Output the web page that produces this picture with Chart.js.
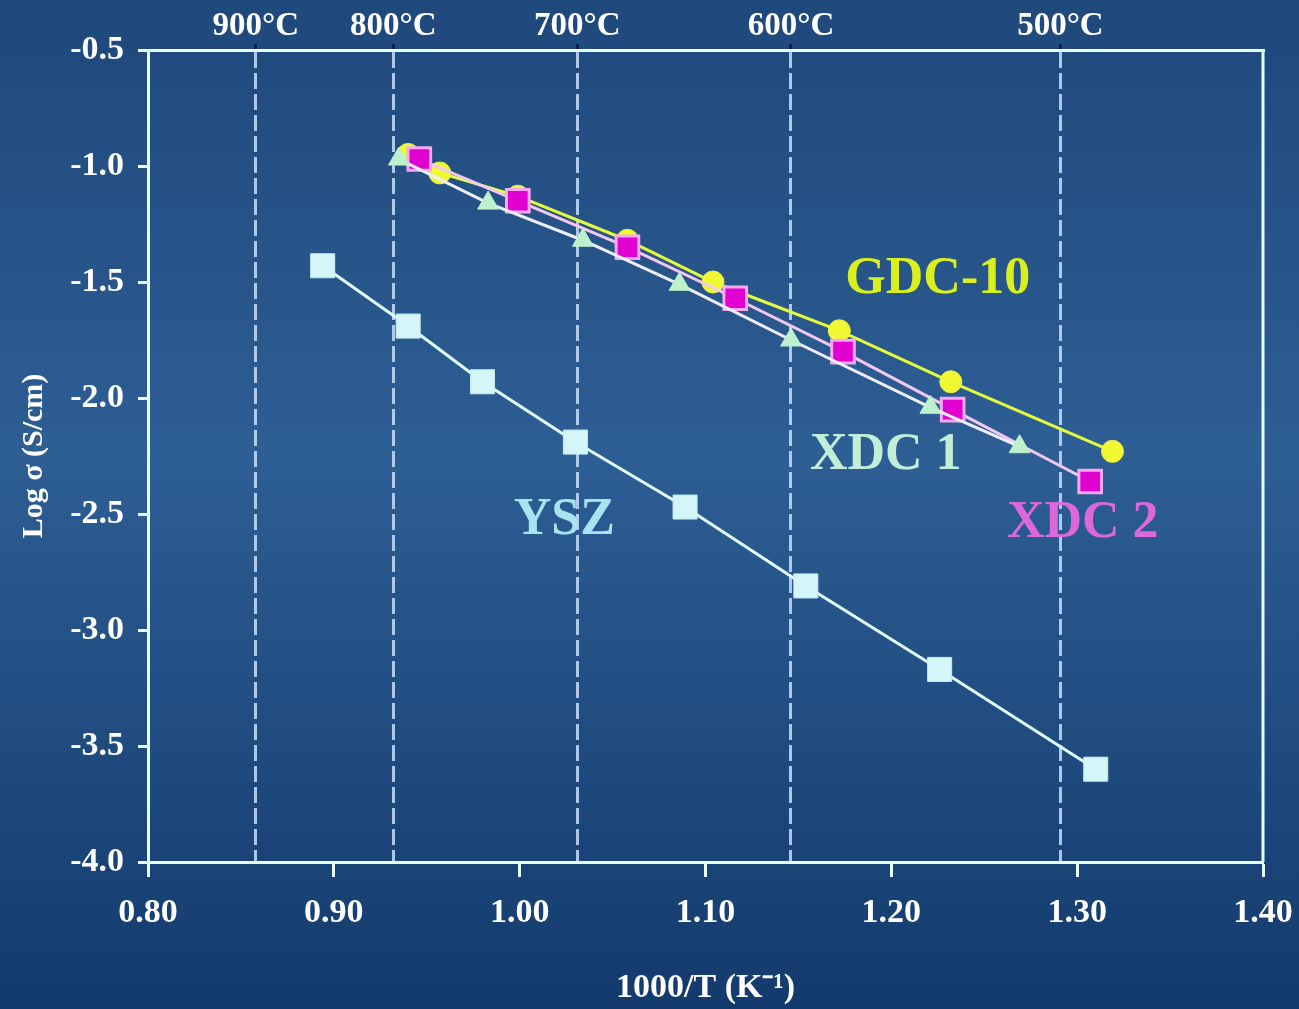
<!DOCTYPE html>
<html>
<head>
<meta charset="utf-8">
<script src="https://cdn.jsdelivr.net/npm/chart.js@4/dist/chart.umd.min.js"></script>
<style>
html,body{margin:0;padding:0;background:#1f4a7f;}
#c{display:block;}
</style>
</head>
<body>
<canvas id="c" width="1299" height="1009"></canvas>
<script>
// ---- data ----
const xTicks = [0.80, 0.90, 1.00, 1.10, 1.20, 1.30, 1.40];
const yTicks = [-4.0, -3.5, -3.0, -2.5, -2.0, -1.5, -1.0, -0.5];
const tempLabels = ['900°C', '800°C', '700°C', '600°C', '500°C'];
const tempX = [0.858, 0.932, 1.031, 1.146, 1.291];   // positions of the temperature lines on 1000/T

const yszX  = [0.894, 0.940, 0.980, 1.030, 1.089, 1.154, 1.226, 1.310];
const yszY  = [-1.43, -1.69, -1.93, -2.19, -2.47, -2.81, -3.17, -3.60];
const gdcX  = [0.940, 0.957, 0.999, 1.058, 1.104, 1.172, 1.232, 1.319];
const gdcY  = [-0.95, -1.03, -1.13, -1.32, -1.50, -1.71, -1.93, -2.23];
const xdc1X = [0.935, 0.983, 1.034, 1.086, 1.146, 1.221, 1.269];
const xdc1Y = [-0.97, -1.16, -1.32, -1.51, -1.75, -2.04, -2.21];
const xdc2X = [0.946, 0.999, 1.058, 1.116, 1.174, 1.233, 1.307];
const xdc2Y = [-0.97, -1.15, -1.35, -1.57, -1.80, -2.05, -2.36];

const seriesNames = ['YSZ', 'XDC 1', 'XDC 2', 'GDC-10'];
const labelX = [1.024, 1.197, 1.303, 1.225];
const labelY = [-2.53, -2.25, -2.54, -1.49];
const labelColors = ['#a9e2f0', '#c2eed8', '#dc68dc', '#d9f01e'];

const pts = (xs, ys) => xs.map((x, i) => ({x: x, y: ys[i]}));
const SERIF = "'Liberation Serif', 'Times New Roman', serif";
const AX = '#e6ffff';

const bgPlugin = {
  id: 'bg',
  beforeDraw(chart) {
    const {ctx, width, height} = chart;
    const g = ctx.createLinearGradient(0, 0, 0, height);
    g.addColorStop(0, '#1f487b');
    g.addColorStop(0.45, '#2d5e94');
    g.addColorStop(1, '#133a6c');
    ctx.save();
    ctx.fillStyle = g;
    ctx.fillRect(0, 0, width, height);
    ctx.restore();
  },
  beforeDatasetsDraw(chart) {
    const {ctx, chartArea: a} = chart;
    ctx.save();
    ctx.strokeStyle = AX;
    ctx.lineWidth = 3;
    ctx.beginPath();
    ctx.moveTo(a.right, a.top);
    ctx.lineTo(a.right, a.bottom);
    ctx.stroke();
    ctx.restore();
  },
  afterDatasetsDraw(chart) {
    const {ctx} = chart;
    const xs = chart.scales.x, ys = chart.scales.y;
    ctx.save();
    ctx.font = 'bold 52px ' + SERIF;
    ctx.textAlign = 'center';
    ctx.textBaseline = 'middle';
    seriesNames.forEach((n, i) => {
      ctx.fillStyle = labelColors[i];
      ctx.fillText(n, xs.getPixelForValue(labelX[i]), ys.getPixelForValue(labelY[i]));
    });
    ctx.restore();
  }
};

new Chart(document.getElementById('c'), {
  type: 'scatter',
  data: {
    datasets: [
      {
        label: 'YSZ', data: pts(yszX, yszY), showLine: true,
        borderColor: '#e2ffff', borderWidth: 3,
        pointStyle: 'rect', pointRadius: 17, pointBackgroundColor: '#d4f6f8',
        pointBorderColor: '#c4ecf2', pointBorderWidth: 1
      },
      {
        label: 'XDC 1', data: pts(xdc1X, xdc1Y), showLine: true,
        borderColor: '#eeeefa', borderWidth: 3,
        pointStyle: 'triangle', pointRadius: 12, pointBackgroundColor: '#bdf0cc',
        pointBorderColor: '#bdf0cc', pointBorderWidth: 1
      },
      {
        label: 'XDC 2', data: pts(xdc2X, xdc2Y), showLine: true,
        borderColor: '#f2c8f2', borderWidth: 3,
        pointStyle: 'rect', pointRadius: 16, pointBackgroundColor: '#e000d0',
        pointBorderColor: '#f6a8f0', pointBorderWidth: 3
      },
      {
        label: 'GDC-10', data: pts(gdcX, gdcY), showLine: true,
        borderColor: '#e4ff3c', borderWidth: 3,
        pointStyle: 'circle', pointRadius: 11, pointBackgroundColor: '#f0f832',
        pointBorderColor: '#e8f04a', pointBorderWidth: 1
      }
    ]
  },
  options: {
    responsive: false,
    animation: false,
    devicePixelRatio: 1,
    layout: {padding: {left: 16, right: 36, top: 0, bottom: 0}},
    plugins: {legend: {display: false}, tooltip: {enabled: false}},
    scales: {
      x: {
        type: 'linear', position: 'bottom', min: 0.8, max: 1.4,
        afterBuildTicks: s => { s.ticks = xTicks.map(v => ({value: v})); },
        afterFit: s => { s.height = 147; s.paddingLeft = 0; s.paddingRight = 0; },
        ticks: {
          color: '#ffffff', padding: 16,
          font: {family: SERIF, size: 34, weight: 'bold'},
          callback: v => Number(v).toFixed(2)
        },
        grid: {display: true, drawOnChartArea: false, drawTicks: true, tickLength: 15,
               tickColor: AX, tickWidth: 3},
        border: {display: true, color: AX, width: 3},
        title: {display: true, text: '1000/T (K⁻¹)', color: '#ffffff',
                font: {family: SERIF, size: 34, weight: 'bold'}, padding: {top: 0, bottom: 0}}
      },
      x2: {
        type: 'linear', position: 'top', min: 0.8, max: 1.4,
        afterBuildTicks: s => { s.ticks = tempX.map(v => ({value: v})); },
        afterFit: s => { s.height = 50; s.paddingLeft = 0; s.paddingRight = 0; },
        ticks: {
          color: '#ffffff', padding: -2,
          font: {family: SERIF, size: 33, weight: 'bold'},
          callback: (v, i) => tempLabels[i]
        },
        grid: {display: true, drawOnChartArea: true, drawTicks: true, tickLength: 6,
               color: 'rgba(200,222,252,0.85)', lineWidth: 3,
               tickColor: '#0b2250', tickWidth: 3},
        border: {display: true, color: AX, width: 3, dash: [16, 5]}
      },
      y: {
        type: 'linear', position: 'left', min: -4.0, max: -0.5,
        afterBuildTicks: s => { s.ticks = yTicks.map(v => ({value: v})); },
        afterFit: s => { s.width = 132; },
        ticks: {
          color: '#ffffff', padding: 14,
          font: {family: SERIF, size: 34, weight: 'bold'},
          callback: v => Number(v).toFixed(1)
        },
        grid: {display: true, drawOnChartArea: false, drawTicks: true, tickLength: 10,
               tickColor: AX, tickWidth: 3},
        border: {display: true, color: AX, width: 3},
        title: {display: true, text: 'Log σ (S/cm)', color: '#ffffff',
                font: {family: SERIF, size: 30, weight: 'bold'}, padding: {top: 0, bottom: 0}}
      }
    }
  },
  plugins: [bgPlugin]
});
</script>
</body>
</html>
